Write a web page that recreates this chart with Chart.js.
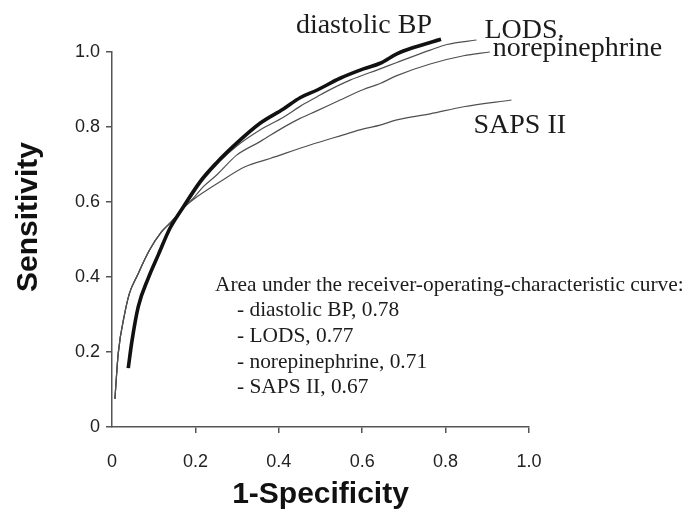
<!DOCTYPE html>
<html>
<head>
<meta charset="utf-8">
<script src="https://cdn.jsdelivr.net/npm/chart.js@4/dist/chart.umd.min.js"></script>
<style>
  html, body { margin: 0; padding: 0; background: #fff; }
  #wrap { width: 685px; height: 511px; position: relative; }
</style>
</head>
<body>
<div id="wrap"><canvas id="roc"></canvas></div>
<script>
// ROC curves: [1-specificity, sensitivity]
const diastolicBP = [
  [0.039,0.157],[0.047,0.223],[0.063,0.321],[0.087,0.397],[0.111,0.459],
  [0.139,0.530],[0.167,0.580],[0.211,0.654],[0.251,0.705],[0.299,0.757],
  [0.355,0.810],[0.411,0.848],[0.451,0.878],[0.491,0.898],[0.547,0.930],
  [0.603,0.955],[0.643,0.970],[0.683,0.995],[0.723,1.012],[0.789,1.034]
];
const lods = [
  [0.007,0.075],[0.015,0.197],[0.030,0.300],[0.042,0.357],[0.059,0.400],
  [0.090,0.472],[0.119,0.521],[0.143,0.548],[0.175,0.590],[0.220,0.660],
  [0.260,0.710],[0.300,0.750],[0.355,0.792],[0.411,0.826],[0.451,0.855],
  [0.491,0.880],[0.515,0.895],[0.571,0.925],[0.643,0.955],[0.683,0.972],
  [0.763,1.005],[0.803,1.020],[0.874,1.032]
];
const norepinephrine = [
  [0.007,0.075],[0.015,0.197],[0.030,0.300],[0.042,0.357],[0.059,0.400],
  [0.090,0.472],[0.119,0.521],[0.143,0.548],[0.175,0.588],[0.195,0.610],
  [0.219,0.641],[0.251,0.672],[0.299,0.725],[0.355,0.761],[0.411,0.799],
  [0.451,0.823],[0.491,0.843],[0.547,0.872],[0.603,0.900],[0.643,0.916],
  [0.683,0.937],[0.763,0.968],[0.843,0.990],[0.906,1.000]
];
const sapsII = [
  [0.007,0.075],[0.015,0.197],[0.030,0.300],[0.042,0.357],[0.059,0.400],
  [0.090,0.472],[0.119,0.521],[0.143,0.548],[0.175,0.588],[0.199,0.610],
  [0.259,0.654],[0.319,0.694],[0.379,0.716],[0.475,0.752],[0.555,0.779],
  [0.603,0.795],[0.643,0.805],[0.683,0.819],[0.763,0.835],[0.843,0.854],
  [0.958,0.872]
];
const seriesNames = ['diastolic BP', 'LODS', 'norepinephrine', 'SAPS II'];
const curveLabels = ['diastolic BP', 'LODS.', 'norepinephrine', 'SAPS II'];
const aucValues = [0.78, 0.77, 0.71, 0.67];
const tickValues = [0, 0.2, 0.4, 0.6, 0.8, 1.0];
const aucHeading = 'Area under the receiver-operating-characteristic curve:';
const yTitle = 'Sensitivity';

const toPts = arr => arr.map(([x, y]) => ({x, y}));
const allSeries = [diastolicBP, lods, norepinephrine, sapsII];
const widths = [3.6, 1.2, 1.2, 1.2];
const colors = ['#111111', '#505050', '#505050', '#505050'];

const datasets = allSeries.map((s, i) => ({
  label: seriesNames[i],
  data: toPts(s),
  borderColor: colors[i],
  borderWidth: widths[i],
  pointRadius: 0,
  cubicInterpolationMode: 'monotone',
  fill: false,
  clip: false,
  order: i === 0 ? 0 : 1
}));

const fmt = v => (v === 0 ? '0' : v.toFixed(1));

// curve end labels, y-axis title and AUC note
const notes = {
  id: 'notes',
  afterDraw(chart) {
    const ctx = chart.ctx;
    const xs = chart.scales.x, ys = chart.scales.y;
    const ends = chart.data.datasets.map(d => {
      const p = d.data[d.data.length - 1];
      return { x: xs.getPixelForValue(p.x), y: ys.getPixelForValue(p.y) };
    });
    ctx.save();
    ctx.fillStyle = '#1c1c1c';
    ctx.font = '28px "Liberation Serif", "Times New Roman", serif';
    ctx.textBaseline = 'alphabetic';
    ctx.textAlign = 'right';
    ctx.fillText(curveLabels[0], ends[0].x - 9, ends[0].y - 6);
    ctx.textAlign = 'left';
    ctx.fillText(curveLabels[1], ends[1].x + 8, ends[1].y - 2);
    ctx.fillText(curveLabels[2], ends[2].x + 3, ends[2].y + 4);
    ctx.fillText(curveLabels[3], ends[3].x - 38, ends[3].y + 33);

    const ca = chart.chartArea;

    // vertical axis title
    ctx.save();
    ctx.translate(ca.left - 83.5, ys.getPixelForValue(0.56));
    ctx.rotate(-Math.PI / 2);
    ctx.textAlign = 'center';
    ctx.textBaseline = 'middle';
    ctx.fillStyle = '#111';
    ctx.font = 'bold 30px "Liberation Sans", Arial, sans-serif';
    ctx.fillText(yTitle, 0, 0);
    ctx.restore();

    // AUC summary
    ctx.font = '21.4px "Liberation Serif", "Times New Roman", serif';
    ctx.textBaseline = 'middle';
    ctx.textAlign = 'left';
    const left = ca.left + 103, top = ca.top + 233, lh = 25.7;
    ctx.fillText(aucHeading, left, top);
    seriesNames.forEach((n, i) => {
      ctx.fillText('- ' + n + ', ' + aucValues[i].toFixed(2), left + 22, top + lh * (i + 1));
    });
    ctx.restore();
  }
};

new Chart(document.getElementById('roc'), {
  type: 'line',
  data: { datasets },
  plugins: [notes],
  options: {
    responsive: true,
    maintainAspectRatio: false,
    animation: false,
    events: [],
    layout: { padding: { left: 0, top: 52, right: 156, bottom: 0 } },
    plugins: { legend: { display: false }, tooltip: { enabled: false } },
    scales: {
      x: {
        type: 'linear',
        min: 0, max: 1,
        afterFit: s => { s.height = 84; },
        afterBuildTicks: s => { s.ticks = tickValues.map(v => ({ value: v })); },
        ticks: {
          callback: fmt,
          color: '#222',
          font: { family: '"Liberation Sans", Arial, sans-serif', size: 18 },
          padding: 18,
          maxRotation: 0
        },
        grid: {
          drawOnChartArea: false,
          drawTicks: true,
          tickLength: 6,
          color: ctx => (ctx.tick && ctx.tick.value === 0 ? 'rgba(0,0,0,0)' : '#555'),
          lineWidth: 1.5
        },
        border: { display: true, color: '#555', width: 1.5 },
        title: {
          display: true,
          text: '1-Specificity',
          color: '#111',
          font: { family: '"Liberation Sans", Arial, sans-serif', size: 30, weight: 'bold' },
          padding: { top: 0, bottom: -2 }
        }
      },
      y: {
        type: 'linear',
        min: 0, max: 1,
        afterFit: s => { s.width = 112; },
        afterBuildTicks: s => { s.ticks = tickValues.map(v => ({ value: v })); },
        ticks: {
          callback: fmt,
          color: '#222',
          font: { family: '"Liberation Sans", Arial, sans-serif', size: 18 },
          padding: 6
        },
        grid: {
          drawOnChartArea: false,
          drawTicks: true,
          tickLength: 6,
          color: '#555',
          lineWidth: 1.5
        },
        border: { display: true, color: '#555', width: 1.5 },
        title: { display: false }
      }
    }
  }
});
</script>
</body>
</html>
